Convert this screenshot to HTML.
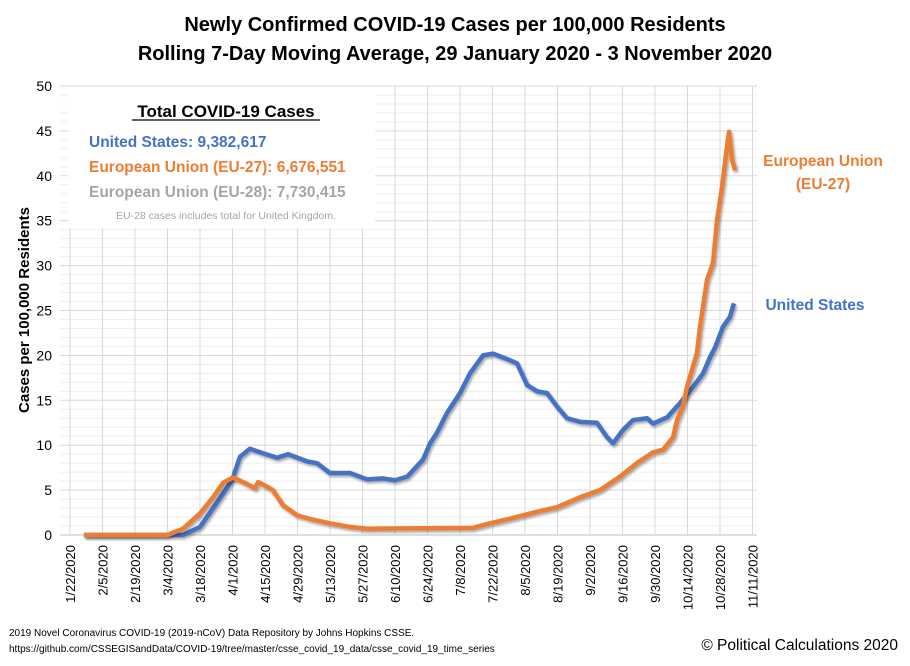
<!DOCTYPE html>
<html><head><meta charset="utf-8"><style>
html,body{margin:0;padding:0;background:#fff;}
body{width:910px;height:661px;overflow:hidden;font-family:"Liberation Sans",Arial,sans-serif;}
</style></head><body>
<svg id="chart" width="910" height="661" viewBox="0 0 910 661" font-family="Liberation Sans, Arial, sans-serif">
<defs><filter id="sh" x="-5%" y="-5%" width="110%" height="110%"><feDropShadow dx="1.5" dy="2" stdDeviation="1.2" flood-color="#000" flood-opacity="0.35"/></filter></defs>
<text x="455" y="31" text-anchor="middle" font-size="20" font-weight="bold" fill="#000">Newly Confirmed COVID-19 Cases per 100,000 Residents</text>
<text x="455" y="60" text-anchor="middle" font-size="20" font-weight="bold" fill="#000">Rolling 7-Day Moving Average, 29 January 2020 - 3 November 2020</text>
<g id="grid"></g>
<g id="yaxis"></g>
<g id="xaxis"></g>
<text transform="translate(29,310) rotate(-90)" text-anchor="middle" font-size="15" font-weight="bold">Cases per 100,000 Residents</text>
<g>
<rect x="68" y="87" width="307" height="141" fill="#fff"/>
<text x="226" y="117" text-anchor="middle" font-size="17" font-weight="bold">Total  COVID-19 Cases</text>
<line x1="132" y1="120" x2="320" y2="120" stroke="#000" stroke-width="1.3"/>
<text x="89" y="147" font-size="15.5" font-weight="bold" fill="#4472c4">United States: 9,382,617</text>
<text x="89" y="172" font-size="15.5" font-weight="bold" fill="#ed7d31">European Union (EU-27): 6,676,551</text>
<text x="89" y="197" font-size="15.5" font-weight="bold" fill="#a5a5a5">European Union (EU-28): 7,730,415</text>
<text x="226" y="219" text-anchor="middle" font-size="10.5" fill="#a5a5a5">EU-28 cases includes total for United Kingdom.</text>
</g>
<g id="series"></g>
<text x="823" y="166" text-anchor="middle" font-size="15.5" font-weight="bold" fill="#ed7d31">European Union</text>
<text x="823" y="189" text-anchor="middle" font-size="15.5" font-weight="bold" fill="#ed7d31">(EU-27)</text>
<text x="815" y="310" text-anchor="middle" font-size="15.5" font-weight="bold" fill="#4472c4">United States</text>
<text x="9" y="636" font-size="10" fill="#000">2019 Novel Coronavirus COVID-19 (2019-nCoV) Data Repository by Johns Hopkins CSSE.</text>
<text x="9" y="652" font-size="10" fill="#000">https://github.com/CSSEGISandData/COVID-19/tree/master/csse_covid_19_data/csse_covid_19_time_series</text>
<text x="898" y="650" text-anchor="end" font-size="15.5" fill="#000">© Political Calculations 2020</text>
</svg>
<script>
const xTickLabels=["1/22/2020","2/5/2020","2/19/2020","3/4/2020","3/18/2020","4/1/2020","4/15/2020","4/29/2020","5/13/2020","5/27/2020","6/10/2020","6/24/2020","7/8/2020","7/22/2020","8/5/2020","8/19/2020","9/2/2020","9/16/2020","9/30/2020","10/14/2020","10/28/2020","11/11/2020"];
const yTicks=[0,5,10,15,20,25,30,35,40,45,50];
// days since 1/22/2020
const usDays=[6,48.7,56,63.3,69.8,73.2,77.5,83.1,89.2,94,102.1,106.4,112,120.6,127.9,134.8,140,145.2,147.8,152.1,155.1,158.1,162.4,168,172.3,177.9,182.2,188.2,192.6,196.9,201.2,205.5,209.8,214.1,219.7,227,231.3,233.9,238.2,242.5,248.6,251.1,257.2,262.8,268.4,272.7,275.7,277.9,281.3,284.3,286];
const usVals=[0,0,0.9,3.6,6.1,8.7,9.6,9.1,8.6,9,8.2,8,6.9,6.9,6.2,6.3,6.1,6.5,7.2,8.4,10.2,11.4,13.6,15.8,18,20,20.2,19.6,19.1,16.7,16,15.8,14.3,13,12.6,12.5,10.9,10.2,11.7,12.8,13,12.4,13.1,14.7,16.5,18,19.8,20.9,23.2,24.3,25.8];
const euDays=[6,41.8,48.7,56,61.6,65.9,70.2,74.5,79.7,81,84,87.4,91.8,97.8,104.7,112,120.6,127.9,173.6,180.9,190.8,201.2,209.8,219.7,228.3,236.9,244.2,251.1,255.5,259.8,261.5,264,265.8,270.1,271.4,274.4,277,278.7,280.9,283,283.9,285.2,286.5];
const euVals=[0,0,0.7,2.4,4.2,5.8,6.4,5.9,5.2,5.9,5.5,5,3.3,2.2,1.7,1.3,0.9,0.7,0.8,1.3,1.9,2.6,3.1,4.2,5,6.5,8,9.2,9.5,10.9,12.8,14.3,16.5,20.3,23.2,28.4,30.3,35,38.8,43.2,44.9,41.8,40.6];
const NS="http://www.w3.org/2000/svg";
const X0=70,DX=32.5,Y0=535,YS=(535-86)/50,L=60,R=757;
const xs=d=>X0+d*DX/14, ys=v=>Y0-v*YS;
function mk(t,a,p){const e=document.createElementNS(NS,t);for(const k in a)e.setAttribute(k,a[k]);p.appendChild(e);return e;}
const grid=document.getElementById('grid'),ya=document.getElementById('yaxis'),xa=document.getElementById('xaxis'),se=document.getElementById('series');
for(let v=0;v<=50;v++){if(v%5)mk('line',{x1:L,x2:R,y1:ys(v),y2:ys(v),stroke:'#efefef','stroke-width':1},grid);}
yTicks.forEach(v=>{const l=mk('line',{x1:L,x2:R,y1:ys(v),y2:ys(v),stroke:v?'#d9d9d9':'#bfbfbf','stroke-width':1},grid);


const t=mk('text',{x:52,y:ys(v)+5,'text-anchor':'end','font-size':14,fill:'#000'},ya);t.textContent=v;

});
xTickLabels.forEach((s,i)=>{const x=X0+i*DX;const l=mk('line',{x1:x,x2:x,y1:86,y2:Y0,stroke:'#d9d9d9','stroke-width':1},grid);


const t=mk('text',{transform:`translate(${x+5},545) rotate(-90)`,'text-anchor':'end','font-size':13,fill:'#000'},xa);t.textContent=s;

});
function line(days,vals,col,name){const p=mk('polyline',{points:days.map((d,i)=>xs(d)+','+ys(vals[i])).join(' '),fill:'none',stroke:col,'stroke-width':4.5,'stroke-linejoin':'round',filter:'url(#sh)'},se);

}
line(usDays,usVals,'#4472c4','us-line');
line(euDays,euVals,'#ed7d31','eu27-line');
</script>
</body></html>
